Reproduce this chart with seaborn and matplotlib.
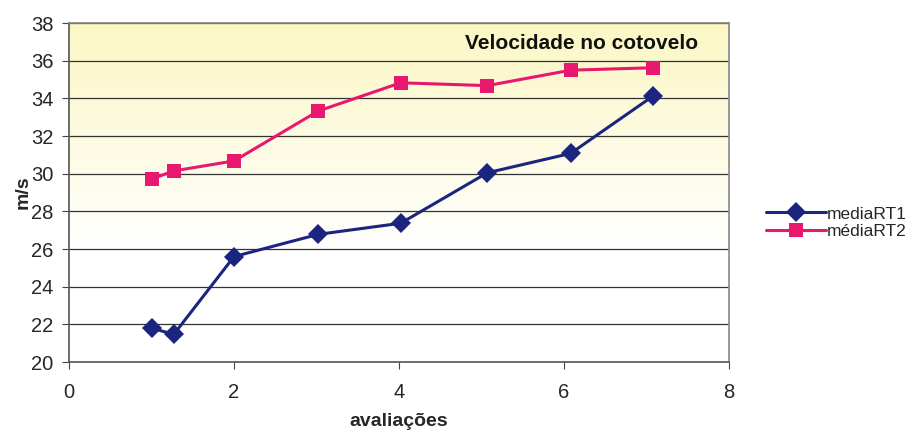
import numpy as np
import pandas as pd
import matplotlib
matplotlib.use('Agg')
import matplotlib.pyplot as plt
import seaborn as sns
from matplotlib.colors import LinearSegmentedColormap

# Values
avaliacoes = [1, 1.27, 2, 3.02, 4.02, 5.07, 6.08, 7.08]
media_rt1 = [21.8, 21.47, 25.6, 26.78, 27.37, 30.05, 31.08, 34.13]
media_rt2 = [29.72, 30.15, 30.68, 33.33, 34.83, 34.68, 35.5, 35.63]
series_names = ['mediaRT1', 'médiaRT2']

df = pd.DataFrame({
    'avaliações': avaliacoes * 2,
    'm/s': media_rt1 + media_rt2,
    'serie': [series_names[0]] * len(avaliacoes) + [series_names[1]] * len(avaliacoes),
})

sns.set_style('white')
plt.rcParams['font.family'] = ['Liberation Sans', 'DejaVu Sans']

fig = plt.figure(figsize=(9.24, 4.37), dpi=100)
ax = fig.add_axes([0.0747, 0.1716, 0.7143, 0.7755])

# yellow (top) to white gradient background of the plot area
grad = np.linspace(0, 1, 256).reshape(-1, 1)
cmap = LinearSegmentedColormap.from_list('bg', ['#fbf7c4', '#fdfbe0', '#ffffff', '#ffffff'])
ax.imshow(grad, aspect='auto', cmap=cmap, extent=[0, 8, 20, 38], origin='upper', zorder=0)

palette = {series_names[0]: '#1b2580', series_names[1]: '#e8186f'}
sns.lineplot(data=df, x='avaliações', y='m/s', hue='serie', style='serie',
             markers={series_names[0]: 'D', series_names[1]: 's'}, dashes=False,
             palette=palette, markersize=10, linewidth=2.2, markeredgewidth=0,
             ax=ax, zorder=3)

ax.set_xlim(0, 8)
ax.set_ylim(20, 38)
ax.set_xticks(range(0, 9, 2))
ax.set_yticks(range(20, 39, 2))
ax.grid(axis='y', color='#333333', linewidth=0.9)
ax.grid(axis='x', visible=False)
ax.set_axisbelow(True)
ax.tick_params(axis='both', labelsize=14.5, length=5, color='#444444', direction='out',
               left=True, bottom=True)
ax.tick_params(axis='x', pad=10)
ax.tick_params(axis='y', pad=6)
for side, sp in ax.spines.items():
    sp.set_visible(True)
    sp.set_linewidth(1.2)
    sp.set_color('#555555' if side in ('left', 'bottom') else '#888888')

ax.set_xlabel('avaliações', fontsize=14, fontweight='bold', labelpad=8)
ax.set_ylabel('m/s', fontsize=14, fontweight='bold', labelpad=0)
ax.text(0.953, 0.941, 'Velocidade no cotovelo', transform=ax.transAxes, ha='right', va='center',
        fontsize=15, fontweight='bold', color='#111111')

handles, labels = ax.get_legend_handles_labels()
ax.legend(handles, labels, loc='center left', bbox_to_anchor=(0.822, 0.49),
          bbox_transform=fig.transFigure, frameon=False, fontsize=12.5,
          handlelength=3.4, handletextpad=0.1, labelspacing=0.15, borderaxespad=0)

fig.savefig('out.png', dpi=100)
